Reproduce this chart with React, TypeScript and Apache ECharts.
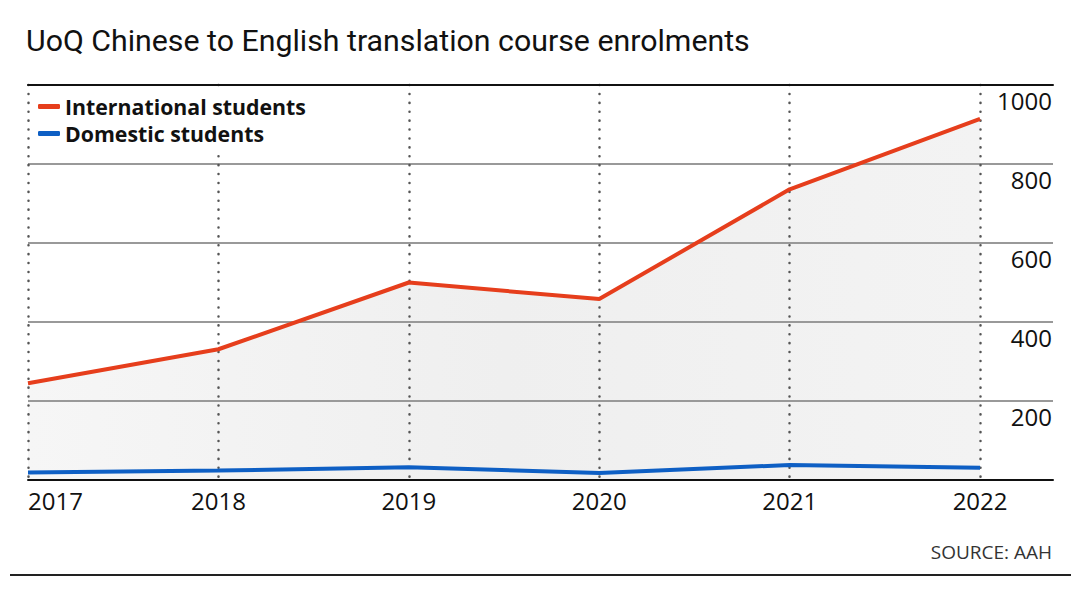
import React, { useEffect, useRef } from "react";
import * as echarts from "echarts";

const years = [2017, 2018, 2019, 2020, 2021, 2022];
const international = [245, 331, 500, 458, 736, 914];
const domestic = [19, 24, 32, 18, 38, 31];
const yTicks = { min: 0, max: 1000, interval: 200 };
const xExtentMax = 2022.383;
const titleText = "UoQ Chinese to English translation course enrolments";
const sourceText = "SOURCE: AAH";

export default function App() {
  const ref = useRef<HTMLDivElement>(null);
  useEffect(() => {
    if (!ref.current) return;
    const chart = echarts.init(ref.current, null, { renderer: "svg" });
    const intlData = years.map((y, i) => [y, international[i]]);
    const domData = years.map((y, i) => [y, domestic[i]]);
    chart.setOption({
      animation: false,
      backgroundColor: "#ffffff",
      title: {
        text: titleText,
        left: 21,
        top: 20,
        textStyle: {
          fontFamily: "Roboto",
          fontWeight: 400,
          fontSize: 30.3,
          color: "#111",
        },
      },
      legend: {
        left: 34,
        top: 92,
        orient: "vertical",
        itemWidth: 22,
        itemHeight: 5,
        itemGap: 6,
        icon: "roundRect",
        backgroundColor: "#ffffff",
        padding: [4, 8, 10, 4],
        z: 10,
        textStyle: {
          fontFamily: "Open Sans",
          fontWeight: "bold",
          fontSize: 21.3,
          color: "#111",
        },
        data: ["International students", "Domestic students"],
      },
      grid: { left: 28, right: 27, top: 85, bottom: 110, containLabel: false },
      xAxis: [
        {
          type: "value",
          min: 2017,
          max: xExtentMax,
          interval: 1,
          z: 3,
          axisLine: { show: true, lineStyle: { color: "#111", width: 2 } },
          axisTick: { show: false },
          axisLabel: {
            fontFamily: "Open Sans",
            fontSize: 24,
            color: "#111",
            margin: 8,
            alignMinLabel: "left",
            showMaxLabel: false,
            formatter: (v: number) => (Number.isInteger(v) ? String(v) : ""),
          },
          splitLine: {
            show: true,
            showMaxLine: false,
            lineStyle: { color: "#555", width: 2.5, type: [0.1, 8.8], cap: "round" },
          },
        },
        {
          type: "value",
          min: 2017,
          max: xExtentMax,
          position: "top",
          z: 3,
          axisLine: { show: true, lineStyle: { color: "#111", width: 2 } },
          axisTick: { show: false },
          axisLabel: { show: false },
          splitLine: { show: false },
        },
      ],
      yAxis: {
        type: "value",
        position: "right",
        min: yTicks.min,
        max: yTicks.max,
        interval: yTicks.interval,
        z: 3,
        axisLine: { show: false },
        axisTick: { show: false },
        splitLine: { show: true, lineStyle: { color: "#999", width: 2 } },
        axisLabel: {
          inside: true,
          fontFamily: "Open Sans",
          fontSize: 24,
          color: "#111",
          verticalAlign: "top",
          padding: [3, 0, 0, 0],
          margin: 1,
          formatter: (v: number) => (v === 0 ? "" : String(v)),
        },
      },
      series: [
        {
          name: "area",
          type: "line",
          data: intlData,
          symbol: "none",
          lineStyle: { width: 0, opacity: 0 },
          areaStyle: {
            color: new echarts.graphic.LinearGradient(0, 0, 1, 0, [
              { offset: 0, color: "#f6f6f6" },
              { offset: 0.5, color: "#efefef" },
              { offset: 1, color: "#f3f3f3" },
            ]),
            opacity: 1,
          },
          silent: true,
          z: 1,
        },
        {
          name: "International students",
          type: "line",
          data: intlData,
          symbol: "none",
          color: "#e63e1c",
          lineStyle: { width: 4, color: "#e63e1c" },
          z: 5,
        },
        {
          name: "Domestic students",
          type: "line",
          data: domData,
          symbol: "none",
          color: "#0e5fc4",
          lineStyle: { width: 4, color: "#0e5fc4" },
          z: 5,
        },
      ],
      graphic: [
        {
          type: "text",
          right: 28,
          top: 542,
          style: {
            text: sourceText,
            fontFamily: "Open Sans",
            fontSize: 19,
            fill: "#333",
          },
        },
        {
          type: "rect",
          left: 10,
          top: 574,
          shape: { width: 1061, height: 2 },
          style: { fill: "#222" },
        },
      ],
    });
    return () => chart.dispose();
  }, []);
  return <div ref={ref} style={{ width: 1080, height: 590, position: "absolute", left: 0, top: 0 }} />;
}
